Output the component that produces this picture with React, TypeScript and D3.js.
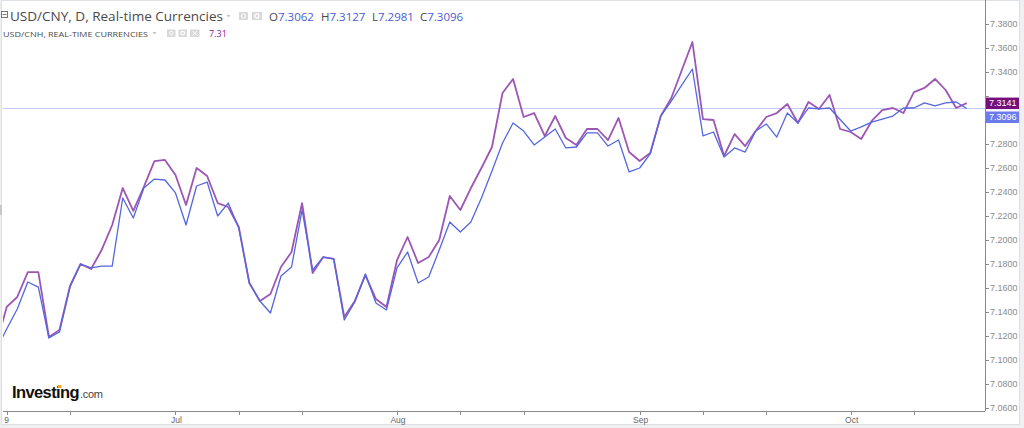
import React from "react";
import * as d3 from "d3";

// USD/CNH (purple), daily, first value is a partially clipped earlier bar
const cnh: number[] = [
  7.1125, 7.1442, 7.1525, 7.1733, 7.1733, 7.1192, 7.125, 7.1617, 7.18, 7.1758,
  7.1917, 7.2125, 7.2433, 7.2242, 7.2442, 7.2658, 7.2667, 7.2542, 7.2292, 7.26,
  7.2533, 7.2308, 7.2275, 7.2108, 7.1642, 7.1492, 7.155, 7.1775, 7.19, 7.2308,
  7.1725, 7.1858, 7.1842, 7.1358, 7.1492, 7.1708, 7.1508, 7.1442, 7.1833, 7.2025,
  7.1808, 7.1858, 7.2, 7.2367, 7.225, 7.2433, 7.26, 7.2775, 7.3225, 7.3342,
  7.3025, 7.3058, 7.2867, 7.3033, 7.285, 7.2792, 7.2925, 7.2925, 7.2833, 7.3017,
  7.2733, 7.2658, 7.2725, 7.3033, 7.3183, 7.3417, 7.365, 7.3008, 7.3, 7.27,
  7.2883, 7.2783, 7.2908, 7.3025, 7.3058, 7.3133, 7.2975, 7.315, 7.3092, 7.3208,
  7.2925, 7.29, 7.2842, 7.2992, 7.3083, 7.31, 7.3058, 7.3233, 7.3267, 7.3342,
  7.325, 7.31, 7.3141,
];

// USD/CNY (blue); null = no onshore quote that day
const cny: (number | null)[] = [
  7.1083, 7.1258, 7.1425, 7.165, 7.1608, 7.1183, 7.1233, 7.1608, 7.18, 7.1767,
  7.1783, 7.1783, 7.235, 7.2183, 7.2433, 7.2508, 7.25, 7.2392, 7.2125, 7.245,
  7.2483, 7.22, 7.2308, 7.21, 7.1642, 7.1492, 7.1392, 7.17, 7.1775, 7.225,
  7.175, 7.1858, 7.1842, 7.1333, 7.1483, 7.1717, 7.1475, 7.1417, 7.1767, 7.19,
  7.1642, 7.1692, 7.1917, 7.215, 7.2067, 7.215, 7.235, 7.2575, 7.2808, 7.2975,
  7.2908, 7.2792, 7.2858, 7.2925, 7.2767, 7.2775, 7.2892, 7.2892, 7.2783, 7.2833,
  7.2567, 7.26, 7.2717, 7.3033, 7.3158, 7.3292, 7.3425, 7.2867, 7.29, 7.2692,
  7.2767, 7.2733, 7.2908, 7.2967, 7.2858, 7.3058, 7.2975, 7.31, 7.3092, 7.31,
  null, 7.2908, 7.2942, 7.2983, 7.3008, 7.3033, 7.31, 7.31, 7.3142, 7.3117,
  7.3142, 7.315, 7.3096,
];

const xTickIndex: number[] = [1, 7, 17, 23, 29, 38, 44, 50, 61, 67, 73, 81, 87];
const xTickLabels: string[] = ["9", "", "Jul", "", "", "Aug", "", "", "Sep", "", "", "Oct", ""];
const yTicks: number[] = [7.06, 7.08, 7.1, 7.12, 7.14, 7.16, 7.18, 7.2, 7.22, 7.24, 7.26, 7.28, 7.3, 7.32, 7.34, 7.36, 7.38];

const cnyOHLC: [string, string][] = [["O", "7.3062"], ["H", "7.3127"], ["L", "7.2981"], ["C", "7.3096"]];
const lastCnh = 7.3141;
const lastCny = 7.3096;

const PURPLE = "#9d56b4";
const BLUE = "#5467de";

export default function App() {
  const W = 1024, H = 428;
  const plotL = 3, plotR = 985, plotT = 3, plotB = 411;
  const x = d3.scaleLinear().domain([0, cnh.length - 1]).range([-3.85, 966.7]);
  const y = d3.scaleLinear().domain([7.06, 7.38]).range([408, 24]);

  const line = d3.line<[number, number]>().x((d) => x(d[0])).y((d) => y(d[1]));
  const cnhPts: [number, number][] = cnh.map((v, i) => [i, v]);
  const cnyPts: [number, number][] = cny
    .map((v, i) => [i, v] as [number, number | null])
    .filter((d) => d[1] != null) as [number, number][];

  const axisFont = "'Liberation Sans', Arial, sans-serif";
  const headFont = "'Open Sans', 'Noto Sans', sans-serif";
  const ohlcX = [269, 321, 372, 420];

  const boxTop = y(lastCnh) - 6;
  const boxBottom = 123;
  const visibleTicks = yTicks.filter((t) => y(t) + 5 < boxTop || y(t) - 5 > boxBottom);

  return (
    <div style={{ position: "absolute", left: 0, top: 0 }}>
      <svg width={W} height={H} style={{ display: "block" }}>
        <defs>
          <clipPath id="plot">
            <rect x={plotL} y={plotT} width={plotR - plotL} height={plotB - plotT} />
          </clipPath>
          <clipPath id="axisR">
            <rect x={plotR} y={0} width={W - plotR} height={plotB} />
          </clipPath>
        </defs>
        <rect x={0} y={0} width={W} height={H} fill="#eef0f2" />
        <rect x={1.5} y={0.5} width={1018} height={424} fill="#ffffff" stroke="#dcdfe4" />

        {/* last-value guide line */}
        <line x1={plotL} x2={plotR} y1={Math.round(y(lastCny)) + 0.5} y2={Math.round(y(lastCny)) + 0.5}
          stroke="#c3cbf7" strokeWidth={1} />

        <g clipPath="url(#plot)">
          <path d={line(cnhPts) || ""} fill="none" stroke={PURPLE} strokeWidth={1.8} strokeLinejoin="round" />
          <path d={line(cnyPts) || ""} fill="none" stroke={BLUE} strokeWidth={1.3} strokeLinejoin="round" />
        </g>

        {/* right axis */}
        <line x1={plotR + 0.5} x2={plotR + 0.5} y1={0} y2={plotB} stroke="#8a8a8a" />
        <g clipPath="url(#axisR)" fontFamily={axisFont} fontSize={9} fill="#8b8b8b">
          {yTicks.map((t) => (
            <line key={"l" + t} x1={plotR} x2={plotR + 4} y1={Math.round(y(t)) + 0.5} y2={Math.round(y(t)) + 0.5} stroke="#8a8a8a" />
          ))}
          {visibleTicks.map((t) => (
            <text key={"t" + t} x={990} y={y(t)} dy="0.35em">{t.toFixed(4)}</text>
          ))}
        </g>
        {/* value labels */}
        <rect x={plotR + 1} y={y(lastCnh) - 5.5} width={33} height={11.5} fill="#740f7c" />
        <text x={989} y={y(lastCnh)} dy="0.35em" fontFamily={axisFont} fontSize={9} fill="#ffffff">{lastCnh.toFixed(4)}</text>
        <rect x={plotR + 1} y={111.5} width={33} height={11.5} fill="#6c7bec" />
        <text x={989} y={117.3} dy="0.35em" fontFamily={axisFont} fontSize={9} fill="#ffffff">{lastCny.toFixed(4)}</text>

        {/* bottom axis */}
        <line x1={plotL} x2={plotR} y1={plotB + 0.5} y2={plotB + 0.5} stroke="#8a8a8a" />
        <g fontFamily={axisFont} fontSize={8.5} fill="#666">
          {xTickIndex.map((ti, k) => (
            <g key={ti}>
              <line x1={Math.round(x(ti)) + 0.5} x2={Math.round(x(ti)) + 0.5} y1={plotB} y2={plotB + 4} stroke="#8a8a8a" />
              {xTickLabels[k] && (
                <text x={x(ti) + (k === 0 ? 0 : 1)} y={423} textAnchor="middle">{xTickLabels[k]}</text>
              )}
            </g>
          ))}
        </g>

        {/* left handle */}
        <rect x={0} y={205} width={2} height={10} fill="#c8c8c8" />

        {/* header line 1 */}
        <rect x={1.5} y={11.5} width={6} height={6} fill="none" stroke="#777" />
        <line x1={2.5} x2={6.5} y1={14.5} y2={14.5} stroke="#777" />
        <text x={10} y={20.5} fontFamily={headFont} fontSize={12} fill="#4a4a4a" textLength={213} lengthAdjust="spacingAndGlyphs">
          USD/CNY, D, Real-time Currencies
        </text>
        <path d="M226.5,15 L230.5,15 L228.5,17.5 Z" fill="#c4c4c4" />
        <rect x={239} y={12} width={9} height={8} fill="#d9d9d9" />
        <circle cx={243.5} cy={16} r={2} fill="none" stroke="#fff" strokeWidth={1} />
        <rect x={252} y={12} width={10} height={8} fill="#d9d9d9" />
        <circle cx={257} cy={16} r={2} fill="none" stroke="#fff" strokeWidth={1.3} />
        {cnyOHLC.map(([k, v], i) => (
          <text key={k} x={ohlcX[i]} y={20.5} fontFamily={headFont} fontSize={11.5}>
            <tspan fill="#4a4a4a">{k}</tspan>
            <tspan fill="#4a5bd4">{v}</tspan>
          </text>
        ))}

        {/* header line 2 */}
        <text x={3} y={36.5} fontFamily={headFont} fontSize={7.6} fill="#4a4a4a" textLength={145} lengthAdjust="spacingAndGlyphs">
          USD/CNH, REAL-TIME CURRENCIES
        </text>
        <path d="M152.5,32 L156.5,32 L154.5,34.5 Z" fill="#c4c4c4" />
        <rect x={167} y={29.5} width={8.5} height={7.5} fill="#d9d9d9" />
        <circle cx={171.2} cy={33.2} r={1.8} fill="none" stroke="#fff" strokeWidth={1} />
        <rect x={178.5} y={29.5} width={8.5} height={7.5} fill="#d9d9d9" />
        <circle cx={182.7} cy={33.2} r={1.8} fill="none" stroke="#fff" strokeWidth={1.2} />
        <rect x={190} y={29.5} width={9.5} height={7.5} fill="#d9d9d9" />
        <path d="M192.5,31 L197,35.5 M197,31 L192.5,35.5" stroke="#fff" strokeWidth={1} />
        <text x={209} y={36.5} fontFamily={headFont} fontSize={9} fill="#8a1d8c">7.31</text>

        {/* logo */}
        <text x={12} y={398} fontFamily={axisFont} fontWeight="bold" fontSize={16.5} fill="#111" letterSpacing={-0.6}>
          Investing
        </text>
        <text x={80} y={398} fontFamily={axisFont} fontSize={11} fill="#444" letterSpacing={-0.3}>.com</text>
        <rect x={58} y={385} width={3.5} height={3} fill="#f5a623" />
      </svg>
    </div>
  );
}
